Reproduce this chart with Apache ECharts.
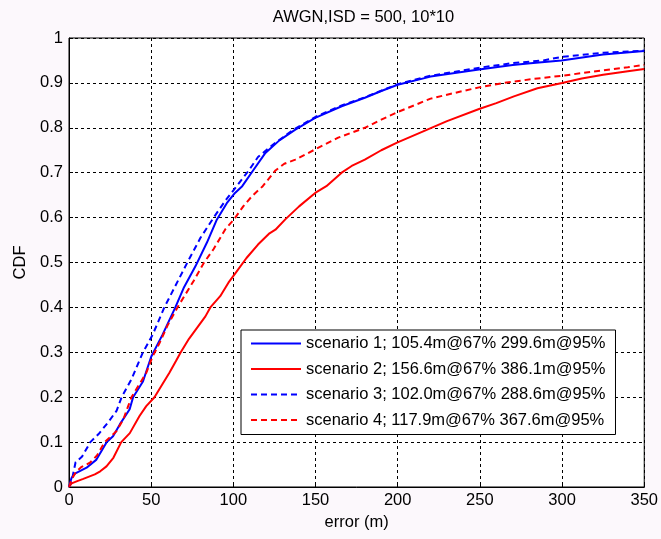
<!DOCTYPE html>
<html>
<head>
<meta charset="utf-8">
<script src="https://cdn.jsdelivr.net/npm/echarts@6/dist/echarts.min.js"></script>
<style>
  html, body { margin: 0; padding: 0; background: #fcf8fc; }
  #chart { width: 661px; height: 539px; }
</style>
</head>
<body>
<div id="chart"></div>
<script>
// Empirical CDF of positioning error, AWGN, ISD = 500, 10*10
const scenarioNames = ['scenario 1', 'scenario 2', 'scenario 3', 'scenario 4'];
// error (m) at the 67% and 95% points of each CDF
const err67 = [105.4, 156.6, 102.0, 117.9];
const err95 = [299.6, 386.1, 288.6, 367.6];

const xTicks = [0, 50, 100, 150, 200, 250, 300, 350];
const yTicks = [0, 0.1, 0.2, 0.3, 0.4, 0.5, 0.6, 0.7, 0.8, 0.9, 1];

// [error (m), CDF]
const scenario1 = [
  [0, 0], [1.5, 0.02], [3.6, 0.03], [10.7, 0.043], [16.7, 0.061], [23, 0.1],
  [26.8, 0.113], [31, 0.14], [36.9, 0.173], [39, 0.2], [45, 0.235], [50, 0.29],
  [57, 0.34], [64.7, 0.4], [70, 0.445], [77, 0.492], [84, 0.545], [90, 0.596],
  [96, 0.632], [101, 0.655], [105.4, 0.67], [112, 0.705], [119.5, 0.744],
  [128, 0.772], [137.7, 0.796], [149.8, 0.822], [165.9, 0.848], [180, 0.867],
  [190, 0.882], [200, 0.896], [220, 0.914], [249.5, 0.93], [270, 0.94],
  [280.8, 0.944], [299.6, 0.95], [325, 0.963], [350, 0.971]
];
const scenario2 = [
  [0, 0], [1.6, 0.008], [5, 0.013], [8.7, 0.018], [15.7, 0.028], [19, 0.035],
  [22.8, 0.046], [27, 0.065], [31.8, 0.1], [37, 0.12], [42.9, 0.158], [47, 0.18],
  [52, 0.2], [57, 0.23], [61, 0.254], [65, 0.28], [68, 0.3], [73, 0.33],
  [78, 0.355], [83, 0.38], [86, 0.4], [92, 0.425], [97, 0.455], [101.4, 0.477],
  [108, 0.51], [115, 0.54], [122, 0.565], [125.6, 0.573], [131.6, 0.596],
  [140, 0.625], [149.8, 0.655], [156.6, 0.67], [165.9, 0.7], [172, 0.715],
  [180, 0.729], [190, 0.75], [199.6, 0.767], [218, 0.796], [230, 0.815],
  [249.5, 0.842], [260, 0.855], [270.7, 0.87], [285, 0.888], [300, 0.9],
  [312, 0.91], [325, 0.918], [340, 0.926], [350, 0.931]
];
const scenario3 = [
  [0, 0], [2, 0.02], [4, 0.055], [8, 0.068], [13, 0.1], [18, 0.118], [24, 0.145],
  [29, 0.17], [32, 0.2], [38, 0.24], [45, 0.3], [51, 0.34], [58, 0.4], [65, 0.45],
  [72, 0.5], [80, 0.555], [88, 0.6], [95, 0.637], [102.0, 0.67], [109.4, 0.705],
  [115, 0.735], [125, 0.765], [137, 0.797], [149.8, 0.824], [165.9, 0.85],
  [180, 0.868], [200, 0.897], [220, 0.916], [250, 0.934], [270, 0.944],
  [288.6, 0.95], [300, 0.958], [325, 0.967], [350, 0.972]
];
const scenario4 = [
  [0, 0], [2, 0.02], [4.6, 0.035], [7.7, 0.045], [12.7, 0.054], [17, 0.07],
  [21.7, 0.1], [28.8, 0.124], [33, 0.15], [36, 0.18], [38, 0.2], [43, 0.23],
  [47, 0.254], [50.8, 0.29], [55, 0.32], [60, 0.36], [66, 0.4], [71, 0.43],
  [76, 0.46], [82, 0.499], [88, 0.53], [95.3, 0.575], [100.4, 0.596],
  [106, 0.625], [111.4, 0.648], [117.9, 0.67], [125.6, 0.705], [131, 0.72],
  [137.7, 0.729], [149.8, 0.752], [163.8, 0.778], [180, 0.8], [190, 0.818],
  [200, 0.835], [220, 0.865], [235, 0.878], [249.5, 0.89], [265, 0.9],
  [280.8, 0.908], [300, 0.916], [325, 0.928], [340, 0.935], [350, 0.94]
];

const seriesData = [scenario1, scenario2, scenario3, scenario4];
const seriesColors = ['#0000ff', '#ff0000', '#0000ff', '#ff0000'];
const seriesDash = ['solid', 'solid', [6, 4], [6, 4]];

const FONT = 'Liberation Sans, Arial, sans-serif';
const FS = 16.5;

const labels = scenarioNames.map((n, i) =>
  n + '; ' + err67[i].toFixed(1) + 'm@67% ' + err95[i].toFixed(1) + 'm@95%');

const chart = echarts.init(document.getElementById('chart'), null, { renderer: 'canvas' });

chart.setOption({
  animation: false,
  backgroundColor: '#fcf8fc',
  textStyle: { fontFamily: FONT, color: '#000' },
  title: {
    text: 'AWGN,ISD = 500, 10*10',
    left: 358.5,
    textAlign: 'center',
    top: 4,
    textStyle: { fontFamily: FONT, fontSize: FS, fontWeight: 'normal', color: '#000' }
  },
  grid: {
    left: 69, right: 13, top: 38, bottom: 52,
    show: true, backgroundColor: '#ffffff', borderColor: '#000', borderWidth: 1
  },
  legend: {
    orient: 'vertical',
    left: 241,
    top: 330,
    itemWidth: 50,
    itemHeight: 14,
    itemGap: 8.5,
    padding: [5, 10, 6, 9],
    backgroundColor: '#ffffff',
    borderColor: '#000',
    borderWidth: 1,
    borderRadius: 0,
    itemStyle: { opacity: 0 },
    textStyle: { fontFamily: FONT, fontSize: FS, color: '#000' },
    data: labels
  },
  xAxis: {
    type: 'value',
    min: xTicks[0],
    max: xTicks[xTicks.length - 1],
    interval: xTicks[1] - xTicks[0],
    name: 'error (m)',
    nameLocation: 'middle',
    nameGap: 27,
    nameTextStyle: { fontFamily: FONT, fontSize: FS, color: '#000' },
    axisLine: { show: true, lineStyle: { color: '#000', width: 1 } },
    axisTick: { show: true, inside: true, length: 4, lineStyle: { color: '#000' } },
    axisLabel: { fontFamily: FONT, fontSize: FS, color: '#000', margin: 5 },
    splitLine: { show: true, lineStyle: { color: '#000', width: 1, type: [3, 3] } }
  },
  yAxis: {
    type: 'value',
    min: yTicks[0],
    max: yTicks[yTicks.length - 1],
    interval: 0.1,
    name: 'CDF',
    nameLocation: 'middle',
    nameGap: 38,
    nameTextStyle: { fontFamily: FONT, fontSize: FS, color: '#000' },
    axisLine: { show: true, lineStyle: { color: '#000', width: 1 } },
    axisTick: { show: true, inside: true, length: 4, lineStyle: { color: '#000' } },
    axisLabel: { fontFamily: FONT, fontSize: FS, color: '#000', margin: 6 },
    splitLine: { show: true, lineStyle: { color: '#000', width: 1, type: [3, 3] } }
  },
  series: seriesData.map((d, i) => ({
    name: labels[i],
    type: 'line',
    data: d,
    symbol: 'none',
    showSymbol: false,
    smooth: false,
    clip: true,
    lineStyle: { color: seriesColors[i], width: 2, type: seriesDash[i] },
    itemStyle: { color: seriesColors[i] }
  }))
});
</script>
</body>
</html>
